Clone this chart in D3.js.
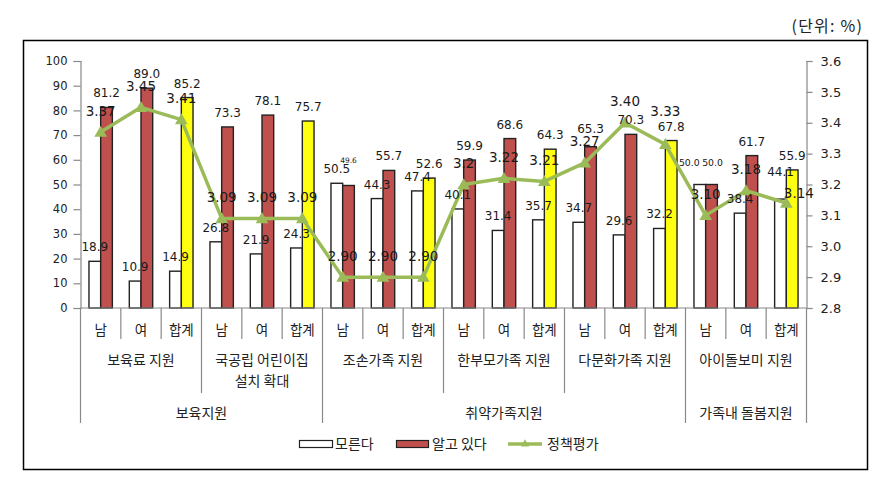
<!DOCTYPE html>
<html><head><meta charset="utf-8">
<script src="https://cdn.jsdelivr.net/npm/d3@7/dist/d3.min.js"></script>
<style>body{margin:0;background:#fff}svg{display:block}</style>
</head><body>
<svg id="chart" width="885" height="481"></svg>
<script>
// ---------- data ----------
const categories = ["남","여","합계","남","여","합계","남","여","합계","남","여","합계","남","여","합계","남","여","합계"];
const groupNames = [["보육료 지원"],["국공립 어린이집","설치 확대"],["조손가족 지원"],["한부모가족 지원"],["다문화가족 지원"],["아이돌보미 지원"]];
const groupSpans = [3,3,3,3,3,3];
const topGroupNames = ["보육지원","취약가족지원","가족내 돌봄지원"];
const topGroupSpans = [6,9,3];
const dontKnow = [18.9,10.9,14.9,26.8,21.9,24.3,50.5,44.3,47.4,40.1,31.4,35.7,34.7,29.6,32.2,50.0,38.4,44.1];
const know     = [81.2,89.0,85.2,73.3,78.1,75.7,49.6,55.7,52.6,59.9,68.6,64.3,65.3,70.3,67.8,50.0,61.7,55.9];
const policy   = [3.37,3.45,3.41,3.09,3.09,3.09,2.90,2.90,2.90,3.20,3.22,3.21,3.27,3.40,3.33,3.10,3.18,3.14];
const policyLabels = ["3.37","3.45","3.41","3.09","3.09","3.09","2.90","2.90","2.90","3.2","3.22","3.21","3.27","3.40","3.33","3.10","3.18","3.14"];
const leftTicks = [0,10,20,30,40,50,60,70,80,90,100];
const rightTicks = [2.8,2.9,3.0,3.1,3.2,3.3,3.4,3.5,3.6];
const seriesNames = ["모른다","알고 있다","정책평가"];
const unitLabel = "(단위: %)";

// ---------- style ----------
const C = {red:"#C0504D", yellow:"#FFFF10", green:"#9BBB59", axis:"#898989", text:"#1a1a1a"};
const numFont = "'DejaVu Sans', Verdana, sans-serif";
const krFont = "'Noto Sans CJK KR', 'Noto Sans', sans-serif";

const svg = d3.select("#chart");
const L = 80.5, R = 806.5, T = 61, B = 308;

svg.append("rect").attr("x",23.5).attr("y",40.5).attr("width",844).attr("height",429)
  .attr("fill","none").attr("stroke","#000").attr("stroke-width",1.5);

svg.append("text").attr("x",863).attr("y",32).attr("text-anchor","end").attr("letter-spacing",1.2)
  .attr("font-family",krFont).attr("font-size",16).attr("fill","#222").text(unitLabel);

const x = d3.scaleBand().domain(d3.range(categories.length)).range([L,R]).padding(0);
const yL = d3.scaleLinear().domain([0,100]).range([B,T]);
const yR = d3.scaleLinear().domain([2.8,3.6]).range([B,T]);
const bw = x.bandwidth()*0.29;

// axes
const axL = svg.append("g").attr("transform",`translate(${L},0)`)
  .call(d3.axisLeft(yL).tickValues(leftTicks).tickSize(7).tickPadding(6).tickFormat(d3.format("d")));
const axR = svg.append("g").attr("transform",`translate(${R},0)`)
  .call(d3.axisRight(yR).tickValues(rightTicks).tickSize(6).tickPadding(8).tickFormat(d3.format(".1f")));
[axL,axR].forEach(a=>{
  a.selectAll("path,line").attr("stroke",C.axis).attr("stroke-width",1.2);
  a.selectAll("text").attr("font-family",numFont).attr("fill","#222");
});
axL.selectAll("text").attr("font-size",11.5);
axR.selectAll("text").attr("font-size",13);

// bars
const bars = svg.append("g");
bars.selectAll("rect.dk").data(dontKnow).join("rect").attr("class","dk")
  .attr("x",(d,i)=>x(i)+x.bandwidth()/2-bw).attr("y",d=>yL(d))
  .attr("width",bw).attr("height",d=>B-yL(d))
  .attr("fill","#fff").attr("stroke","#222").attr("stroke-width",1.4);
bars.selectAll("rect.kn").data(know).join("rect").attr("class","kn")
  .attr("x",(d,i)=>x(i)+x.bandwidth()/2).attr("y",d=>yL(d))
  .attr("width",bw).attr("height",d=>B-yL(d))
  .attr("fill",(d,i)=>categories[i]==="합계"?C.yellow:C.red).attr("stroke","#222").attr("stroke-width",1.4);

// baseline
svg.append("line").attr("x1",L).attr("x2",R).attr("y1",B).attr("y2",B).attr("stroke",C.axis).attr("stroke-width",1.2);

// category axis lines
const cat = svg.append("g").attr("stroke",C.axis).attr("stroke-width",1.2);
d3.range(categories.length+1).forEach(i=>{
  const xx = i<categories.length ? x(i) : R;
  let y2 = 339;
  if (i%3===0) y2 = 393;
  if (i===0||i===6||i===15||i===18) y2 = 423;
  cat.append("line").attr("x1",xx).attr("x2",xx).attr("y1",B).attr("y2",y2);
});
svg.append("g").selectAll("text").data(categories).join("text")
  .attr("x",(d,i)=>x(i)+x.bandwidth()/2).attr("y",335)
  .attr("text-anchor","middle").attr("font-family",krFont).attr("font-size",13.5).attr("fill","#222").text(d=>d);
let acc=0;
groupNames.forEach((lines,gi)=>{
  const cx = (x(acc) + (x(acc+groupSpans[gi]-1)+x.bandwidth()))/2;
  lines.forEach((ln,li)=>{
    svg.append("text").attr("x",cx).attr("y",365+li*21).attr("text-anchor","middle")
      .attr("font-family",krFont).attr("font-size",14).attr("fill","#222").text(ln);
  });
  acc+=groupSpans[gi];
});
acc=0;
topGroupNames.forEach((nm,gi)=>{
  const cx = (x(acc) + (x(acc+topGroupSpans[gi]-1)+x.bandwidth()))/2;
  svg.append("text").attr("x",cx).attr("y",418).attr("text-anchor","middle")
    .attr("font-family",krFont).attr("font-size",14).attr("fill","#222").text(nm);
  acc+=topGroupSpans[gi];
});

// line
const cx = i=>x(i)+x.bandwidth()/2;
svg.append("path").datum(policy)
  .attr("d",d3.line().x((d,i)=>cx(i)).y(d=>yR(d)))
  .attr("fill","none").attr("stroke",C.green).attr("stroke-width",3.5).attr("stroke-linejoin","round");
const tri = d3.symbol().type(d3.symbolTriangle).size(70);
svg.append("g").selectAll("path").data(policy).join("path")
  .attr("transform",(d,i)=>`translate(${cx(i)},${yR(d)+1})`).attr("d",tri).attr("fill",C.green);

// data labels (nudges for Excel-placed labels)
const dkAdj = {15:{dx:-10.5,dy:-9,fs:9.3}, 17:{dy:-13}};
const knAdj = {6:{dy:-12,fs:7.5}, 15:{dy:-9,fs:9.3,dx:1}, 12:{dy:-4}};
const plAdj = {14:{dy:-12}, 17:{dx:12.5,dy:11}};
const lab = svg.append("g").attr("font-family",numFont).attr("fill",C.text).attr("text-anchor","middle");
dontKnow.forEach((v,i)=>{
  const a = dkAdj[i]||{};
  lab.append("text").attr("x",cx(i)-bw/2+(a.dx||0)).attr("y",yL(v)-10+(a.dy||0))
    .attr("font-size",a.fs||12).text(d3.format(".1f")(v));
});
know.forEach((v,i)=>{
  const a = knAdj[i]||{};
  lab.append("text").attr("x",cx(i)+bw/2+(a.dx||0)).attr("y",yL(v)-10+(a.dy||0))
    .attr("font-size",a.fs||12).text(d3.format(".1f")(v));
});
policy.forEach((v,i)=>{
  const a = plAdj[i]||{};
  lab.append("text").attr("x",cx(i)+(a.dx||0)).attr("y",yR(v)-16.5+(a.dy||0))
    .attr("font-size",13.5).text(policyLabels[i]);
});

// legend
const lg = svg.append("g");
const ly = 444;
lg.append("rect").attr("x",299.5).attr("y",ly-3.5).attr("width",33).attr("height",7).attr("fill","#fff").attr("stroke","#222").attr("stroke-width",1.2);
lg.append("text").attr("x",335).attr("y",ly+5).attr("font-family",krFont).attr("font-size",14).attr("fill","#222").text(seriesNames[0]);
lg.append("rect").attr("x",396.5).attr("y",ly-3.5).attr("width",32).attr("height",7).attr("fill",C.red).attr("stroke","#222").attr("stroke-width",1.2);
lg.append("text").attr("x",432).attr("y",ly+5).attr("font-family",krFont).attr("font-size",14).attr("fill","#222").text(seriesNames[1]);
lg.append("line").attr("x1",508).attr("x2",542).attr("y1",ly).attr("y2",ly).attr("stroke",C.green).attr("stroke-width",3.5);
lg.append("path").attr("transform",`translate(525,${ly})`).attr("d",d3.symbol().type(d3.symbolTriangle).size(30)).attr("fill",C.green);
lg.append("text").attr("x",547).attr("y",ly+5).attr("font-family",krFont).attr("font-size",14).attr("fill","#222").text(seriesNames[2]);
</script>
</body></html>
